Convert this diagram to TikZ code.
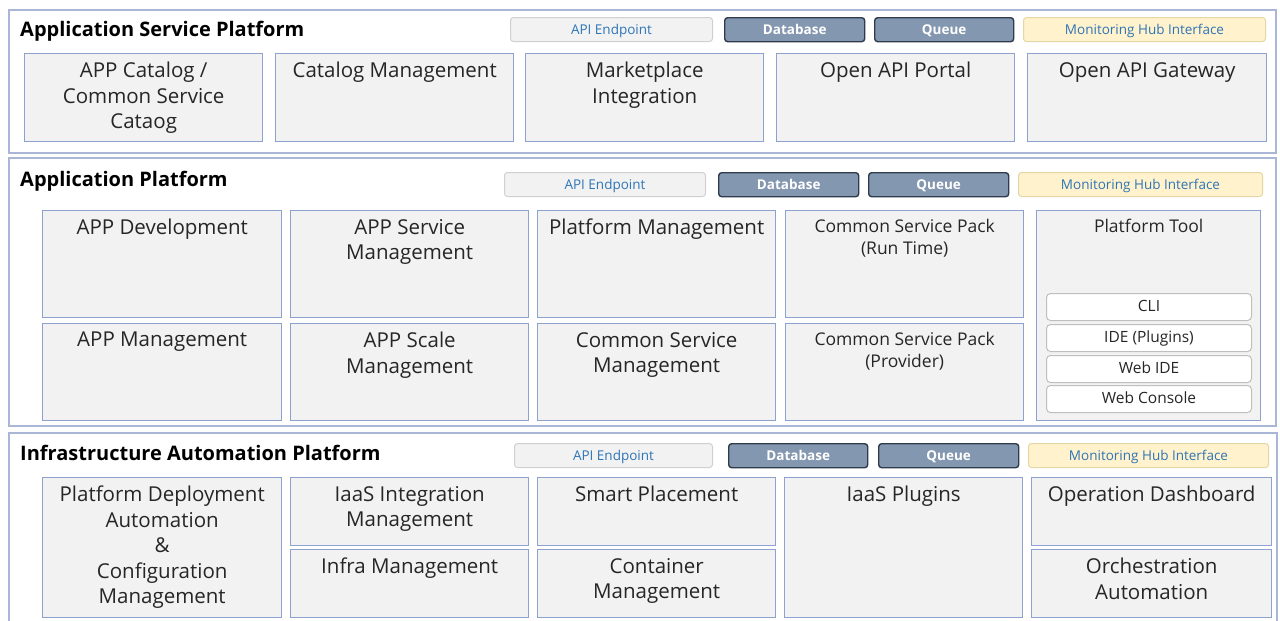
\documentclass[tikz,border=0pt]{standalone}
\usepackage{fontspec}
\setmainfont{Open Sans}
\definecolor{outerline}{HTML}{A9B6D6}
\definecolor{boxline}{HTML}{8EA2CF}
\definecolor{boxfill}{HTML}{F2F2F2}
\definecolor{apiline}{HTML}{D0D0D0}
\definecolor{apitext}{HTML}{2E75B6}
\definecolor{dbfill}{HTML}{8497B0}
\definecolor{dbline}{HTML}{2F3A4A}
\definecolor{monfill}{HTML}{FFF2CC}
\definecolor{monline}{HTML}{E3D7A6}
\definecolor{txt}{HTML}{262626}
\tikzset{
  outerbox/.style={draw=outerline, line width=1.5pt, fill=white, anchor=north west, inner sep=0pt},
  box/.style={draw=boxline, line width=1.4pt, fill=boxfill, anchor=north west, inner sep=0pt},
  boxtext/.style={anchor=north, align=center, text=txt, inner sep=0pt, font=\fontsize{20.5}{25.5}\selectfont},
  smalltext/.style={boxtext, font=\fontsize{17.5}{22}\selectfont},
  title/.style={anchor=base west, inner sep=0pt, text=black, font=\bfseries\fontsize{20}{22}\selectfont},
  badge/.style={anchor=north west, rounded corners=3pt, inner sep=0pt, text height=11.5pt, text depth=2pt, font=\fontsize{13.5}{15}\selectfont},
  api/.style={badge, draw=apiline, line width=1pt, fill=boxfill, text=apitext},
  db/.style={badge, draw=dbline, line width=1.4pt, fill=dbfill, text=white, font=\bfseries\fontsize{13.5}{15}\selectfont},
  mon/.style={badge, draw=monline, line width=1pt, fill=monfill, text=apitext},
  tool/.style={anchor=north west, draw=black!25, line width=1pt, fill=white, rounded corners=4pt, inner sep=0pt, text height=12pt, text depth=3pt, text=txt, font=\fontsize{15.5}{17}\selectfont},
}
% \bx{name}{x}{y}{w}{h}{text}
\newcommand\bx[6]{%
  \node[box, minimum width=#4pt, minimum height=#5pt] (#1) at (#2,#3) {};
  \node[boxtext] (#1-t) at ([yshift=-9pt]#1.north) {#6};
}
% \bdg{name}{style}{x}{y}{w}{text}
\newcommand\bdg[6]{%
  \node[#2, minimum width=#5pt, minimum height=24pt] (#1) at (#3,#4) {#6};
}
\begin{document}
\begin{tikzpicture}[x=1pt, y=-1pt]
\useasboundingbox[fill=white] (0,0) rectangle (1280,621);
% ===== Section 1 =====
\node[outerbox, minimum width=1267pt, minimum height=143pt] (s1) at (8,9) {};
\node[title] (s1t) at (20,36) {Application Service Platform};
\bdg{s1api}{api}{510}{17}{202}{API Endpoint}
\bdg{s1db}{db}{724}{17}{140}{Database}
\bdg{s1q}{db}{874}{17}{139}{Queue}
\bdg{s1m}{mon}{1023}{17}{242}{Monitoring Hub Interface}
\bx{a1}{24}{53}{238}{88}{APP Catalog /\\Common Service\\Cataog}
\bx{a2}{275}{53}{238}{88}{Catalog Management}
\bx{a3}{525}{53}{238}{88}{Marketplace\\Integration}
\bx{a4}{776}{53}{238}{88}{Open API Portal}
\bx{a5}{1027}{53}{239}{88}{Open API Gateway}
% ===== Section 2 =====
\node[outerbox, minimum width=1267pt, minimum height=268pt] (s2) at (8,157) {};
\node[title] (s2t) at (20,186) {Application Platform};
\bdg{s2api}{api}{504}{172}{201}{API Endpoint}
\bdg{s2db}{db}{718}{172}{140}{Database}
\bdg{s2q}{db}{868}{172}{140}{Queue}
\bdg{s2m}{mon}{1018}{172}{244}{Monitoring Hub Interface}
\bx{b1}{42}{210}{239}{107}{APP Development}
\bx{b2}{290}{210}{238}{107}{APP Service\\Management}
\bx{b3}{537}{210}{238}{107}{Platform Management}
\node[box, minimum width=238pt, minimum height=107pt] (b4) at (785,210) {};
\node[smalltext] (b4-t) at ([yshift=-9pt]b4.north) {Common Service Pack\\(Run Time)};
\bx{c1}{42}{323}{239}{97}{APP Management}
\bx{c2}{290}{323}{238}{97}{APP Scale\\Management}
\bx{c3}{537}{323}{238}{97}{Common Service\\Management}
\node[box, minimum width=238pt, minimum height=97pt] (c4) at (785,323) {};
\node[smalltext] (c4-t) at ([yshift=-9pt]c4.north) {Common Service Pack\\(Provider)};
\node[box, minimum width=224pt, minimum height=210pt] (pt) at (1036,210) {};
\node[smalltext] (pt-t) at ([yshift=-9pt]pt.north) {Platform Tool};
\node[tool, minimum width=205pt, minimum height=27pt] (cli) at (1046,293) {CLI};
\node[tool, minimum width=205pt, minimum height=27pt] (ide) at (1046,324) {IDE (Plugins)};
\node[tool, minimum width=205pt, minimum height=27pt] (wide) at (1046,355) {Web IDE};
\node[tool, minimum width=205pt, minimum height=27pt] (wcon) at (1046,385) {Web Console};
% ===== Section 3 =====
\node[outerbox, minimum width=1268pt, minimum height=200pt] (s3) at (8,432) {};
\node[title] (s3t) at (20,460) {Infrastructure Automation Platform};
\bdg{s3api}{api}{514}{443}{198}{API Endpoint}
\bdg{s3db}{db}{728}{443}{139}{Database}
\bdg{s3q}{db}{878}{443}{140}{Queue}
\bdg{s3m}{mon}{1028}{443}{240}{Monitoring Hub Interface}
\bx{d1}{42}{477}{239}{140}{Platform Deployment\\Automation\\\&\\Configuration\\Management}
\bx{d2}{290}{477}{238}{68}{IaaS Integration\\Management}
\bx{d3}{290}{549}{238}{68}{Infra Management}
\bx{d4}{537}{477}{238}{68}{Smart Placement}
\bx{d5}{537}{549}{238}{68}{Container\\Management}
\bx{d6}{784}{477}{238}{140}{IaaS Plugins}
\bx{d7}{1031}{477}{240}{68}{Operation Dashboard}
\bx{d8}{1031}{549}{240}{68}{Orchestration\\Automation}
\end{tikzpicture}
\end{document}
